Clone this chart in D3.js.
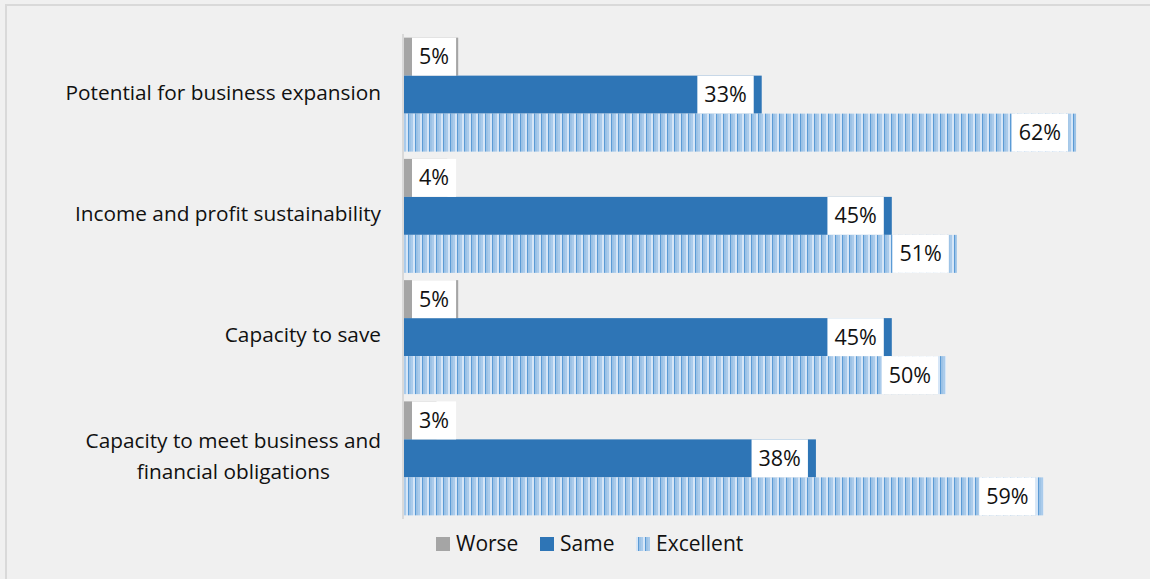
<!DOCTYPE html>
<html>
<head>
<meta charset="utf-8">
<script src="https://cdn.jsdelivr.net/npm/d3@7"></script>
<style>
  body { margin: 0; background: #f0f0f0; }
  text { font-family: "Open Sans", "Noto Sans", sans-serif; fill: #111; }
</style>
</head>
<body>
<div id="chart"></div>
<script>
// categories and series
var categories = ["Potential for business expansion", "Income and profit sustainability",
                  "Capacity to save", "Capacity to meet business and financial obligations"];
var series = ["Worse", "Same", "Excellent"];
var worse = [0.05, 0.04, 0.05, 0.03];
var same = [0.33, 0.45, 0.45, 0.38];
var excellent = [0.62, 0.51, 0.50, 0.59];

var width = 1150, height = 579;

var svg = d3.select("#chart").append("svg")
    .attr("width", width)
    .attr("height", height);

// pattern for Excellent (vertical stripes)
var defs = svg.append("defs");
var pat = defs.append("pattern")
    .attr("id", "stripes")
    .attr("patternUnits", "userSpaceOnUse")
    .attr("width", 7).attr("height", 10);
pat.append("rect").attr("width", 7).attr("height", 10).attr("fill", "#d6e6f7");
pat.append("rect").attr("x", 2).attr("width", 1.5).attr("height", 10).attr("fill", "#5b9bd5");
pat.append("rect").attr("x", 3.5).attr("width", 1.5).attr("height", 10).attr("fill", "#9dc3e6");
pat.append("rect").attr("x", 5.5).attr("width", 1).attr("height", 10).attr("fill", "#7fb0df");

var colors = { "Worse": "#a5a5a5", "Same": "#2e75b6", "Excellent": "url(#stripes)" };

// chart background + border
svg.append("rect")
    .attr("x", 6).attr("y", 5)
    .attr("width", width + 10).attr("height", height + 10)
    .attr("fill", "#f0f0f0")
    .attr("stroke", "#d9d9d9")
    .attr("stroke-width", 2);

var x0 = 404;
var x = d3.scaleLinear().domain([0, 0.65]).range([x0, x0 + 0.65 * 1084]);

var y = d3.scaleBand()
    .domain(categories)
    .range([34, 519])
    .paddingInner(0.06)
    .paddingOuter(0.03);

var yInner = d3.scaleBand()
    .domain(series)
    .range([0, y.bandwidth()]);

var rows = categories.map(function(c, i) {
    return { cat: c, vals: [
        { s: "Worse", v: worse[i] },
        { s: "Same", v: same[i] },
        { s: "Excellent", v: excellent[i] }
    ]};
});

var groups = svg.selectAll("g.group")
    .data(rows).enter()
    .append("g")
        .attr("class", "group")
        .attr("transform", function(d) { return "translate(0," + y(d.cat) + ")"; });

groups.selectAll("rect.bar")
    .data(function(d) { return d.vals; }).enter()
    .append("rect")
        .attr("class", "bar")
        .attr("x", x(0))
        .attr("y", function(d) { return yInner(d.s); })
        .attr("width", function(d) { return x(d.v) - x(0); })
        .attr("height", yInner.bandwidth())
        .attr("fill", function(d) { return colors[d.s]; });

// data labels with white boxes, inside end
var fmt = d3.format(".0%");
var labels = groups.selectAll("g.lbl")
    .data(function(d) { return d.vals; }).enter()
    .append("g").attr("class", "lbl");

labels.each(function(d) {
    var g = d3.select(this);
    var t = g.append("text")
        .attr("font-size", 21.5)
        .attr("dy", "0.35em")
        .attr("y", yInner(d.s) + yInner.bandwidth() / 2)
        .text(fmt(d.v));
    var tw = t.node().getComputedTextLength();
    var bw = tw + 14;
    var end = x(d.v);
    var bx = Math.max(x0 + 8, end - 8 - bw);
    g.insert("rect", "text")
        .attr("x", bx)
        .attr("y", yInner(d.s))
        .attr("width", bw)
        .attr("height", yInner.bandwidth())
        .attr("fill", "#fff");
    t.attr("x", bx + 7);
});

// axis line
svg.append("line")
    .attr("x1", x0 - 1).attr("x2", x0 - 1)
    .attr("y1", 34).attr("y2", 519)
    .attr("stroke", "#d9d9d9")
    .attr("stroke-width", 2);

// category labels (wrapped onto two lines where long)
var catLines = {
    "Capacity to meet business and financial obligations": ["Capacity to meet business and", "financial obligations"]
};
var labelRight = 381;
categories.forEach(function(c) {
    var lines = catLines[c] || [c];
    var cy = y(c) + y.bandwidth() / 2;
    var lh = 31;
    var t = svg.append("text")
        .attr("font-size", 20.8)
        .attr("text-anchor", "middle");
    var spans = lines.map(function(l, i) {
        return t.append("tspan")
            .attr("y", cy - 2 + (i - (lines.length - 1) / 2) * lh)
            .attr("dy", "0.35em")
            .text(l);
    });
    var maxW = d3.max(spans, function(s) { return s.node().getComputedTextLength(); });
    spans.forEach(function(s) { s.attr("x", labelRight - maxW / 2); });
});

// legend
var legendX = [436, 540, 636];
var leg = svg.selectAll("g.legend")
    .data(series).enter()
    .append("g")
        .attr("class", "legend")
        .attr("transform", function(d, i) { return "translate(" + legendX[i] + ",544)"; });
leg.append("rect")
    .attr("x", 0).attr("y", -7)
    .attr("width", 14).attr("height", 14)
    .attr("fill", function(d) { return colors[d]; });
leg.append("text")
    .attr("x", 20)
    .attr("dy", "0.35em")
    .attr("font-size", 21)
    .text(function(d) { return d; });
</script>
</body>
</html>
